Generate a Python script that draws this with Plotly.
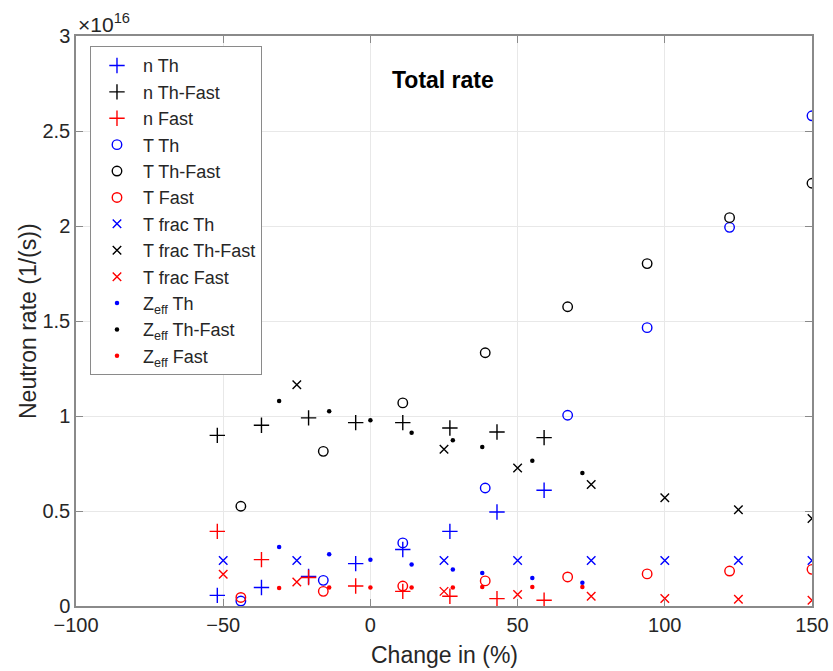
import plotly.graph_objects as go

# x positions (Change in %)
n_x = [-52, -37, -21, -5, 11, 27, 43, 59]
t_x = [-44, -16, 11, 39, 67, 94, 122, 150]
frac_x = [-50, -25, 25, 50, 75, 100, 125, 150]
fracTF_x = [-25, 25, 50, 75, 100, 125, 150]
z_x = [-31, -14, 0, 14, 28, 38, 55, 72]

# values in units of 1e16 (1/s)
n_th = [0.056, 0.097, 0.155, 0.223, 0.297, 0.393, 0.495, 0.609]
n_thfast = [0.898, 0.951, 0.990, 0.965, 0.965, 0.937, 0.916, 0.886]
n_fast = [0.393, 0.244, 0.150, 0.105, 0.077, 0.051, 0.039, 0.030]

t_th = [0.026, 0.135, 0.332, 0.621, 1.004, 1.465, 1.993, 2.58]
t_thfast = [0.525, 0.814, 1.069, 1.333, 1.575, 1.802, 2.044, 2.225]
t_fast = [0.045, 0.077, 0.105, 0.132, 0.153, 0.169, 0.184, 0.193]

frac_th = [0.240, 0.240, 0.240, 0.240, 0.240, 0.240, 0.240, 0.240]
frac_thfast = [1.165, 0.825, 0.726, 0.639, 0.570, 0.507, 0.460]
frac_fast = [0.167, 0.126, 0.077, 0.060, 0.051, 0.039, 0.035, 0.030]

z_th = [0.310, 0.272, 0.244, 0.218, 0.192, 0.174, 0.148, 0.123]
z_thfast = [1.079, 1.025, 0.977, 0.912, 0.872, 0.837, 0.765, 0.700]
z_fast = [0.095, 0.097, 0.097, 0.097, 0.098, 0.100, 0.100, 0.100]

x_ticks = [-100, -50, 0, 50, 100, 150]
y_ticks = [0, 0.5, 1, 1.5, 2, 2.5, 3]
y_ticklabels = ["0", "0.5", "1", "1.5", "2", "2.5", "3"]

BLUE = "#0000ff"
BLACK = "#000000"
RED = "#ff0000"
FONT = "Liberation Sans, Arial"
TXT = "#262626"

fig = go.Figure()

def add(xs, ys, name, symbol, color, size, lw=1.4):
    fig.add_trace(go.Scatter(
        x=xs, y=ys, mode="markers", name=name,
        marker=dict(symbol=symbol, size=size, color=color,
                    line=dict(color=color, width=lw)),
    ))

add(n_x, n_th, "n Th", "cross-thin-open", BLUE, 11)
add(n_x, n_thfast, "n Th-Fast", "cross-thin-open", BLACK, 11)
add(n_x, n_fast, "n Fast", "cross-thin-open", RED, 11)
add(t_x, t_th, "T Th", "circle-open", BLUE, 9.5)
add(t_x, t_thfast, "T Th-Fast", "circle-open", BLACK, 9.5)
add(t_x, t_fast, "T Fast", "circle-open", RED, 9.5)
add(frac_x, frac_th, "T frac Th", "x-thin-open", BLUE, 8.5)
add(fracTF_x, frac_thfast, "T frac Th-Fast", "x-thin-open", BLACK, 8.5)
add(frac_x, frac_fast, "T frac Fast", "x-thin-open", RED, 8.5)
add(z_x, z_th, "Z<sub>eff</sub> Th", "circle", BLUE, 4.5, 0)
add(z_x, z_thfast, "Z<sub>eff</sub> Th-Fast", "circle", BLACK, 4.5, 0)
add(z_x, z_fast, "Z<sub>eff</sub> Fast", "circle", RED, 4.5, 0)

axis_common = dict(
    showgrid=True, gridcolor="#e8e8e8", gridwidth=1,
    showline=True, linecolor="#8a8a8a", linewidth=1.5, mirror="allticks",
    ticks="inside", ticklen=7, tickcolor="#8a8a8a", tickwidth=1,
    zeroline=False, automargin=False,
    tickfont=dict(family=FONT, size=20, color=TXT),
)

fig.update_layout(
    width=833, height=671,
    margin=dict(l=76, r=21, t=36, b=65),
    paper_bgcolor="white", plot_bgcolor="white",
    showlegend=True,
    legend=dict(
        x=0.019, y=0.982, xanchor="left", yanchor="top",
        bgcolor="white", bordercolor="#8a8a8a", borderwidth=1,
        font=dict(family=FONT, size=18, color=TXT),
        tracegroupgap=0, itemwidth=42,
    ),
    xaxis=dict(range=[-100, 150], tickvals=x_ticks, **axis_common),
    yaxis=dict(range=[0, 3], tickvals=y_ticks, ticktext=y_ticklabels, **axis_common),
    annotations=[
        dict(text="<b>Total rate</b>", xref="paper", yref="paper",
             x=(443 - 76) / 736, y=1 - (80 - 36) / 570, xanchor="center", yanchor="middle",
             showarrow=False, font=dict(family=FONT, size=23, color="#000000")),
        dict(text="\u00d710<sup>16</sup>", xref="paper", yref="paper",
             x=0, y=1, xanchor="left", yanchor="bottom", yshift=-2,
             showarrow=False, font=dict(family=FONT, size=21, color=TXT)),
        dict(text="Change in (%)", xref="paper", yref="paper",
             x=0.5, y=-(655 - 606) / 570, xanchor="center", yanchor="middle",
             showarrow=False, font=dict(family=FONT, size=23, color=TXT)),
        dict(text="Neutron rate (1/(s))", xref="paper", yref="paper",
             x=(28 - 76) / 736, y=0.5, xanchor="center", yanchor="middle", textangle=-90,
             showarrow=False, font=dict(family=FONT, size=23, color=TXT)),
    ],
)

fig.write_html("out.html")
